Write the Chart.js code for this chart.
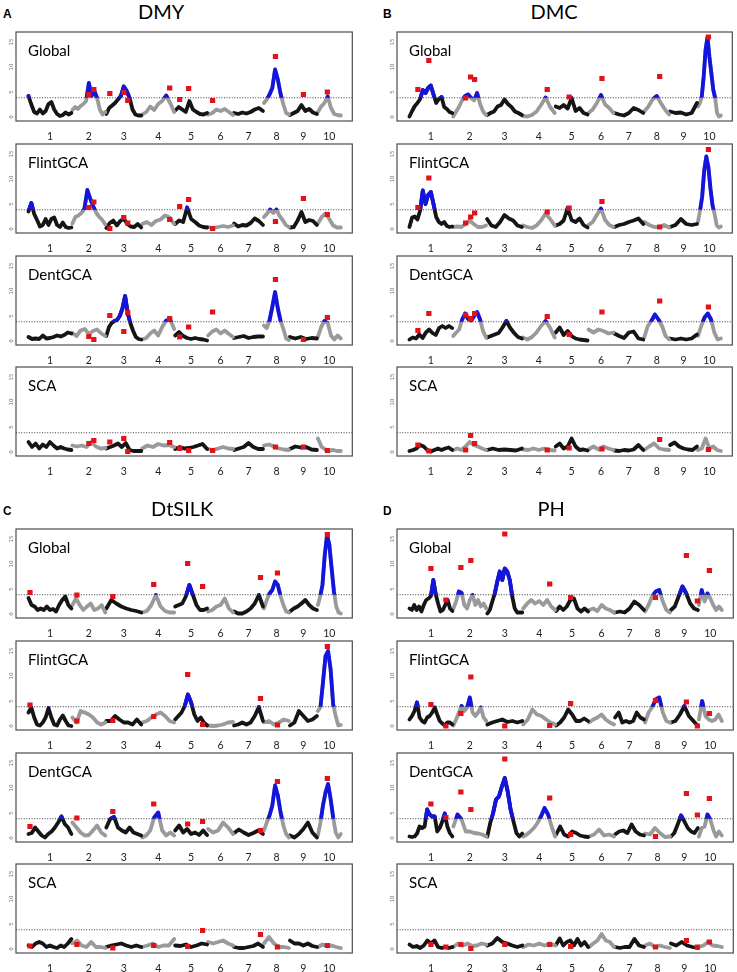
<!DOCTYPE html>
<html><head><meta charset="utf-8">
<script src="https://cdn.jsdelivr.net/npm/chart.js@4.4.1/dist/chart.umd.min.js"></script>
<style>
html,body{margin:0;padding:0;background:#fff;}
body{width:737px;height:972px;position:relative;overflow:hidden;font-family:Lato,sans-serif;}
.t{position:absolute;white-space:nowrap;color:#000;line-height:1;}
canvas{position:absolute;}
</style></head><body>
<script>
// ---------- shared axis data ----------
const chromLabels = ['1','2','3','4','5','6','7','8','9','10'];
const chromLen = [44, 34, 36, 33, 33, 26, 30, 26, 28, 24];
const yTicks = [0, 5, 10, 15];
const threshold = 3.85;
const subplotNames = ['Global', 'FlintGCA', 'DentGCA', 'SCA'];

// ---------- A: DMY ----------
const dmyGlobal = [
 [4.2,2.5,1.0,0.7,1.5,0.7,1.2,2.6,3.0,1.5,0.6,0.2,0.4,0.9,0.5,0.8],
 [1.4,2.0,1.6,2.2,2.6,3.2,6.8,4.2,5.2,3.8,1.5,0.5,1.0],
 [0.6,1.8,2.3,2.8,3.5,4.2,6.1,5.2,3.8,1.5,0.5,0.3,0.3],
 [0.5,1.0,2.1,1.4,2.6,3.2,4.3,2.8,1.0],
 [1.3,2.0,1.5,1.0,3.2,1.5,1.0,0.6,0.5,0.8],
 [0.5,0.8,1.5,1.2,1.6,1.0,0.4],
 [0.8,0.6,0.9,0.7,1.0,1.5,1.8,1.2],
 [2.8,3.5,4.5,5.8,9.5,7.5,4.6,2.5,0.8,0.5],
 [0.4,0.8,1.2,2.4,1.2,1.6,0.9,0.6],
 [1.0,2.1,2.8,4.1,1.8,0.6,0.4,0.3]
];
const dmyFlint = [
 [3.5,5.2,3.0,1.8,0.5,0.8,2.0,0.8,2.0,2.3,0.8,0.4,1.3,0.4,0.2,0.3],
 [1.1,2.4,2.7,3.2,4.0,7.8,6.0,4.5,3.2,2.4,1.8,0.9],
 [0.2,1.2,1.7,0.7,1.6,2.1,1.0,0.5,0.4,1.0,0.3],
 [1.0,1.4,0.8,1.6,1.9,2.7,2.3,1.0],
 [1.0,1.7,1.4,4.3,2.0,1.4,0.7,0.4,0.3],
 [0.4,0.2,0.4,0.6,0.4,0.7],
 [1.1,0.5,0.8,0.7,1.2,2.1,1.6,0.8],
 [2.4,3.1,3.9,3.2,3.9,2.6,1.8,0.8,0.4],
 [0.3,0.4,1.7,3.4,1.4,1.8,1.6,0.8],
 [1.1,2.4,3.1,2.0,0.7,0.3,0.3]
];
const dmyDent = [
 [0.8,0.4,0.5,0.4,1.1,0.5,0.6,0.8,1.1,0.9,1.2,1.7,1.5],
 [1.6,1.0,2.1,2.4,1.4,2.0,2.3,1.5,1.0],
 [1.0,2.8,3.6,4.0,4.2,5.0,6.5,9.0,5.5,3.5,2.0,0.8,0.4,0.3],
 [0.3,0.6,1.5,2.1,1.1,2.8,4.1,4.3,2.4],
 [1.1,1.8,1.0,0.6,0.4,0.6,0.4,0.3,0.1],
 [1.1,1.9,2.3,1.5,2.1,1.4,0.8],
 [0.6,0.8,1.0,0.6,0.8,0.9,0.9],
 [3.1,2.6,4.1,6.8,9.8,6.5,4.0,2.4,0.5,0.2],
 [0.8,0.5,0.8,0.4,0.6,0.5],
 [0.8,2.8,4.0,3.6,1.1,0.3,1.1,0.5]
];
const dmySca = [
 [2.0,1.0,1.7,0.7,1.5,1.0,2.0,1.3,0.7,1.0,0.7,0.5,0.4],
 [1.3,1.1,1.3,1.0,2.0,1.1,0.7,0.8],
 [0.7,1.0,1.3,1.7,1.0,1.8,0.4,0.2,0.2,0.2],
 [0.7,1.3,1.0,1.6,1.3,1.4,1.0],
 [0.6,1.0,0.7,0.8,1.0,1.3,1.6,0.6],
 [0.6,0.4,0.7,1.0,0.7,0.6],
 [0.4,0.7,1.0,1.8,1.0,0.6,0.6],
 [1.3,1.5,1.1,0.7,0.5,0.4],
 [0.6,1.1,0.9,1.0,0.5,0.4],
 [2.7,1.0,0.5,0.3,0.4,0.2,0.2]
];
const dmyQtlPos = [61, 66, 82, 96, 100, 142, 152, 161, 185, 248, 276, 300];
const dmyGlobalQtl = [4.5, 5.5, 4.7, 4.9, 3.3, 5.8, 3.5, 5.7, 3.3, 12.1, 4.5, 5.0];
const dmyFlintQtl = [4.3, 5.4, 0.1, 2.3, 1.2, 1.9, 4.5, 5.9, 0.1, 1.5, 6.1, 2.9];
const dmyDentQtl = [0.9, 0.3, 5.1, 1.9, 5.7, 4.5, 0.8, 2.8, 5.8, 12.3, 0.3, 4.7];
const dmyScaQtl = [1.7, 2.3, 2.0, 2.7, 0.1, 1.9, 0.7, 0.3, 0.3, 1.0, 1.0, 0.3];

// ---------- B: DMC ----------
const dmcGlobal = [
 [0.1,1.2,2.2,2.8,3.6,5.4,4.8,5.8,6.3,4.5,2.8,3.6,4.0,2.0,1.6,1.0,0.8],
 [0.1,1.1,2.1,3.4,4.2,4.5,3.8,3.3,4.8,2.6,1.1,0.4],
 [0.4,0.8,1.1,2.1,2.4,3.5,2.6,2.0,1.1,0.8,0.4],
 [0.2,0.1,0.4,1.1,2.4,3.9,2.0,0.8],
 [2.1,1.8,2.4,1.7,3.8,1.2,1.8,0.8,0.5],
 [0.8,1.5,2.8,4.4,2.5,1.8,0.8],
 [0.8,0.5,0.3,0.8,1.8,1.4,0.8],
 [1.1,2.1,3.5,4.2,2.8,1.5,0.5],
 [1.1,0.8,0.9,0.5,0.8,2.8],
 [2.1,2.8,4.1,8.1,13.5,16.0,12.0,8.8,5.5,3.8,0.8,0.1,0.3]
];
const dmcFlint = [
 [0.4,2.3,2.5,1.9,3.7,7.7,5.0,6.8,7.4,5.0,2.4,1.4,1.0,1.4,0.6,0.4,0.5],
 [0.4,0.5,0.4,1.0,1.7,1.0,0.4,0.4,0.7],
 [2.0,0.7,0.4,1.4,2.8,2.1,1.7,0.7,0.4],
 [0.7,0.4,0.2,0.7,1.7,3.1,2.0,0.7],
 [0.7,1.0,1.7,4.2,1.8,1.4,2.1,0.8,0.3],
 [0.8,1.4,2.8,4.1,1.8,0.8,0.4],
 [0.4,0.8,1.0,1.4,1.7,2.1,1.0],
 [1.4,0.8,0.4,0.4,0.8,0.3],
 [0.4,0.8,2.0,1.0,0.8,1.0],
 [1.4,3.7,6.4,11.7,14.5,12.4,8.1,4.7,3.0,0.7,0.3,0.5]
];
const dmcDent = [
 [0.3,0.7,0.5,1.3,0.6,1.7,2.3,1.6,1.2,2.6,3.0,2.6,3.0,2.6],
 [1.0,1.7,2.3,4.3,5.5,4.4,4.0,5.0,5.8,4.3,2.0,0.7],
 [0.7,1.0,1.3,1.6,2.7,4.0,2.6,1.6,0.8,0.5],
 [0.7,0.3,0.8,1.7,3.0,4.0,2.6,0.7],
 [1.7,2.7,1.2,2.0,1.0,0.5,0.3,0.2,0.1],
 [2.3,1.7,2.3,2.0,1.5,1.7],
 [1.5,1.0,0.6,1.7,1.9,0.5,0.3],
 [0.7,3.0,4.0,5.3,4.3,3.0,1.0,0.3],
 [0.5,0.3,0.5,0.3,0.5,1.3],
 [1.0,3.0,4.7,5.5,4.3,1.7,0.3,0.5]
];
const dmcSca = [
 [0.2,0.4,0.7,1.4,1.1,0.4,0.1,0.4,0.7,0.4,0.7,0.9,0.4],
 [0.4,0.7,0.4,1.1,2.0,1.4,1.1,0.7,0.4],
 [0.4,0.7,0.4,0.5,0.4,0.3,0.7],
 [0.5,0.4,0.7,0.4,0.7,0.4,0.3],
 [1.1,1.7,0.7,1.1,2.7,1.1,0.4,0.5,0.3],
 [0.5,1.1,0.5,1.1,0.7,0.4],
 [0.3,0.2,0.4,0.3,0.5,1.4,0.4],
 [0.4,1.1,1.7,0.7,0.5,0.4],
 [1.4,1.9,1.1,0.7,0.5,0.4,1.1],
 [0.4,0.7,2.7,0.7,1.1,0.4,0.2]
];
const dmcQtlPos = [9, 20, 57, 62, 66, 139, 161, 194, 252, 301];
const dmcGlobalQtl = [5.5, 11.3, 3.8, 8.0, 7.5, 5.5, 4.0, 7.7, 8.1, 16.0];
const dmcFlintQtl = [4.3, 10.2, 1.2, 2.4, 3.2, 3.4, 4.2, 5.5, 0.4, 15.9];
const dmcDentQtl = [2.1, 5.5, 5.2, 4.5, 5.5, 4.9, 1.3, 5.8, 8.0, 6.8];
const dmcScaQtl = [1.4, 0.2, 0.4, 3.3, 1.7, 0.4, 0.8, 0.6, 2.5, 0.5];

// ---------- C: DtSILK ----------
const silkGlobal = [
 [3.2,1.8,1.5,0.8,1.1,0.8,1.5,0.8,1.0,0.5,1.8,2.8,3.5,1.8,1.1],
 [1.8,3.1,1.8,0.8,1.5,2.1,0.8,1.1,1.8,0.3],
 [1.1,2.8,2.1,1.5,1.1,0.8,0.6,0.3],
 [0.3,0.6,1.8,3.8,1.5,0.6,0.3,0.3],
 [1.5,1.8,2.1,3.5,5.8,3.8,1.8,0.8,0.8,1.1],
 [0.5,0.8,1.5,1.8,3.1,1.1,0.3],
 [0.5,0.1,0.1,0.5,1.1,2.1,3.8,1.5],
 [1.1,2.8,4.1,4.8,6.5,5.8,3.5,1.8,0.5,0.3],
 [0.5,1.1,1.5,2.1,2.8,1.8,1.1,0.8],
 [1.8,3.5,5.8,11.8,15.8,13.8,9.1,4.5,1.5,0.3,0.1]
];
const silkFlint = [
 [2.7,3.7,1.7,0.3,0.1,0.7,1.7,3.6,1.7,0.3,0.1,1.3,2.1,1.0,0.1,0.0],
 [1.7,0.7,3.0,2.7,2.3,1.7,0.7,0.3,0.7],
 [1.0,1.0,2.0,1.3,0.7,0.7,0.3,1.3,0.3],
 [0.7,1.0,1.7,2.3,2.7,2.0,1.0,0.7],
 [1.3,2.0,2.7,4.0,6.3,4.7,2.3,1.0,1.7,0.7,0.1],
 [0.1,0.0,0.1,0.3,0.7,0.8],
 [0.1,0.3,0.7,0.3,0.7,2.0,3.8,1.0],
 [0.7,1.0,0.3,0.7,1.3,1.0],
 [0.1,0.7,3.0,2.0,1.0,1.3,2.0],
 [3.0,3.7,8.7,14.0,15.0,11.3,4.3,2.0,0.1,0.2]
];
const silkDent = [
 [0.8,1.0,2.1,1.3,0.5,0.1,0.8,1.3,2.1,3.1,4.3,2.8,2.1,0.8],
 [3.1,2.1,1.1,0.5,0.6,1.5,2.5,1.1,0.5],
 [2.1,3.8,4.2,2.1,1.5,1.1,2.1,1.1,0.8,0.5],
 [0.1,0.5,1.5,4.1,5.1,1.5,0.5,1.1,0.5],
 [1.5,2.5,1.1,1.8,0.8,1.1,0.6,1.5,0.6],
 [1.8,1.1,1.5,3.1,2.1,0.8],
 [1.0,1.7,1.1,0.6,1.0,1.5,0.8],
 [1.5,3.1,4.5,6.5,10.5,8.5,5.1,2.5,0.8,0.1],
 [0.5,0.1,0.8,1.8,3.1,1.1,0.1],
 [0.5,3.1,6.5,9.1,10.8,7.8,4.1,1.1,0.1,0.8]
];
const silkSca = [
 [0.7,0.4,1.1,1.4,1.1,0.4,0.7,0.4,0.2,0.7,0.4,1.1,2.0],
 [1.1,1.7,0.7,0.4,1.4,0.4,0.4,0.2],
 [0.4,0.7,0.9,1.1,0.7,0.4,0.7,0.4],
 [0.4,0.7,1.1,0.4,0.7,0.7,2.0],
 [0.7,0.6,0.9,0.4,0.7,1.1,0.9],
 [1.4,1.1,1.4,1.7,1.1,0.7],
 [0.4,0.2,0.2,0.4,0.6,1.1,0.4],
 [1.1,2.4,1.1,0.4,0.4,0.2],
 [1.7,1.1,1.1,0.7,1.1,0.6,0.4],
 [0.4,0.9,0.6,0.7,0.4,0.2]
];
const silkQtlPos = [2, 49, 85, 126, 160, 175, 233, 250, 300];
const silkGlobalQtl = [4.3, 3.8, 3.5, 5.9, 10.1, 5.5, 7.3, 8.2, 15.9];
const silkFlintQtl = [4.2, 1.0, 1.1, 1.9, 10.3, 0.3, 5.5, 0.2, 15.9];
const silkDentQtl = [2.3, 4.0, 5.3, 6.8, 2.8, 3.3, 1.5, 11.3, 11.9];
const silkScaQtl = [0.6, 0.9, 0.2, 0.7, 0.5, 3.7, 2.9, 0.4, 0.7];

// ---------- D: PH ----------
const phGlobal = [
 [1.1,0.8,1.8,0.8,1.5,0.5,1.8,2.8,3.1,3.6,6.8,4.0,2.1,0.5,0.8,1.8,2.8,1.1,0.6],
 [1.1,2.5,4.5,4.2,1.8,1.1,2.8,3.8,1.8,2.8,1.5,2.1,1.1],
 [0.1,0.8,2.5,4.1,6.5,8.5,6.8,9.1,8.5,6.8,3.5,1.1,0.3,0.3,0.3],
 [1.1,2.1,2.8,2.1,2.6,1.8,2.8,1.5,0.8],
 [0.6,1.5,0.8,1.5,2.8,3.1,1.1,0.5,1.1,0.5],
 [0.8,1.1,0.6,1.8,1.1,0.8,0.3],
 [0.3,0.5,0.3,1.1,2.5,1.8,0.8],
 [0.5,1.8,3.5,4.5,4.8,2.5,0.8,0.3],
 [0.8,1.5,3.5,5.5,4.1,2.1,1.1,0.8],
 [1.8,4.8,2.5,4.1,3.1,1.8,0.8,1.5,0.8]
];
const phFlint = [
 [1.3,2.0,3.0,4.7,1.7,1.0,0.7,1.7,2.0,2.7,3.7,2.3,1.0,0.5,0.1,0.7,0.7,0.3],
 [0.1,1.3,2.7,4.0,3.0,3.7,5.7,2.7,2.0,2.7,3.7,1.7,1.0],
 [0.3,0.7,1.0,1.3,0.8,1.0,0.7,1.0],
 [0.3,1.3,3.3,2.3,2.0,1.3,0.7,0.3],
 [0.1,0.7,1.7,3.3,2.3,1.0,1.0,1.5,1.0],
 [0.7,1.3,1.7,2.3,1.3,0.7,0.3],
 [1.7,2.7,0.7,1.0,0.7,1.0,2.7,1.7,1.3],
 [0.7,2.7,3.7,5.3,5.7,2.7,1.0,0.7],
 [0.7,1.0,2.3,4.0,2.0,1.0,0.0],
 [1.3,5.0,2.0,1.3,1.0,1.3,2.3,1.0]
];
const phDent = [
 [0.3,0.2,0.3,0.9,2.3,2.0,2.3,5.7,4.7,4.3,4.3,1.3,2.0,3.3,4.9,2.3,1.0,0.3],
 [2.3,4.7,3.7,1.3,1.3,1.0,0.9,0.7,0.3],
 [0.3,3.0,5.0,7.7,8.3,10.3,12.0,9.3,5.7,3.3,1.0,0.3,0.9],
 [0.3,0.7,1.3,2.0,3.0,4.3,6.0,4.7,2.3,0.3],
 [0.7,2.3,0.7,0.3,1.3,1.0,0.5,0.3,0.2],
 [0.3,0.7,1.7,0.5,0.7,0.3],
 [0.7,1.3,1.5,1.0,2.7,1.3,0.7,0.5],
 [0.9,0.7,2.0,1.0,0.2,0.3],
 [0.3,1.0,2.7,4.5,3.3,2.0,1.3,1.0,2.0],
 [0.3,2.0,2.3,4.7,3.7,1.7,0.3,1.3,0.5]
];
const phSca = [
 [0.9,0.4,0.6,0.2,0.7,1.7,1.1,1.7,0.4,0.2,0.4,0.2,0.4],
 [0.4,1.1,0.7,1.1,0.6,0.7,1.1,0.9],
 [0.7,1.1,2.2,1.4,1.1,0.7,0.4,0.7],
 [0.4,0.9,0.7,1.1,0.7,1.1,0.7],
 [0.9,2.1,0.7,1.4,1.7,0.7,2.0,0.7,1.4,0.4],
 [0.4,1.1,1.7,3.0,1.7,1.4,0.4],
 [0.4,0.2,0.4,0.4,2.0,0.7,0.4],
 [0.7,1.1,0.4,0.7,0.4,0.2],
 [1.1,0.7,1.4,0.7,0.4,0.2],
 [0.4,0.7,1.4,0.7,0.6,0.4]
];
const phQtlPos = [22, 37, 52, 62, 96, 141, 162, 247, 278, 289, 301];
const phGlobalQtl = [9.1, 2.8, 9.3, 10.7, 16.0, 6.0, 3.3, 3.3, 11.7, 2.6, 8.7];
const phFlintQtl = [4.3, 0.0, 2.5, 9.8, 0.0, 0.1, 4.5, 5.1, 4.8, 0.0, 2.5];
const phDentQtl = [6.8, 4.1, 9.2, 5.7, 15.8, 8.0, 0.7, 0.3, 8.9, 4.6, 7.9];
const phScaQtl = [0.9, 0.4, 0.9, 0.1, 0.9, 0.9, 0.5, 0.4, 1.7, 0.4, 1.4];

// ---------- assembly ----------
const panels = [
 {letter:'A', title:'DMY', curves:[dmyGlobal,dmyFlint,dmyDent,dmySca], pos:dmyQtlPos, qtl:[dmyGlobalQtl,dmyFlintQtl,dmyDentQtl,dmyScaQtl]},
 {letter:'B', title:'DMC', curves:[dmcGlobal,dmcFlint,dmcDent,dmcSca], pos:dmcQtlPos, qtl:[dmcGlobalQtl,dmcFlintQtl,dmcDentQtl,dmcScaQtl]},
 {letter:'C', title:'DtSILK', curves:[silkGlobal,silkFlint,silkDent,silkSca], pos:silkQtlPos, qtl:[silkGlobalQtl,silkFlintQtl,silkDentQtl,silkScaQtl]},
 {letter:'D', title:'PH', curves:[phGlobal,phFlint,phDent,phSca], pos:phQtlPos, qtl:[phGlobalQtl,phFlintQtl,phDentQtl,phScaQtl]}
];
const geom = [
 {cx:0,   frameW:337, top:0,   titleX:161, letterX:3},
 {cx:381, frameW:336, top:0,   titleX:554, letterX:383},
 {cx:0,   frameW:337, top:497, titleX:182, letterX:3},
 {cx:381, frameW:337, top:497, titleX:551, letterX:383}
];
const rowTops = [32, 144, 256, 367];
const FRAME_H = 89, YAXIS_W = 16, XAXIS_H = 24, PAD_T = 6, PAD_R = 3;
const LINE_W = 3.8;

const chromStart = [];
chromLen.reduce((acc, l) => { chromStart.push(acc); return acc + l; }, 0);
const chromCenters = chromLen.map((l, i) => chromStart[i] + l / 2);

const COL_BLACK = '#151515', COL_GRAY = '#9a9a9a', COL_BLUE = '#1414e0', COL_RED = '#e3121a';

const blueClip = {
  id: 'blueClip',
  beforeDatasetDraw(chart, args) {
    const ds = chart.data.datasets[args.index];
    if (!ds.aboveOnly) return;
    const a = chart.chartArea, ctx = chart.ctx;
    const ty = chart.scales.y.getPixelForValue(threshold);
    ctx.save();
    ctx.beginPath();
    ctx.rect(a.left, a.top - 4, a.right - a.left, ty - a.top + 4);
    ctx.clip();
  },
  afterDatasetDraw(chart, args) {
    if (chart.data.datasets[args.index].aboveOnly) chart.ctx.restore();
  }
};
const framePlugin = {
  id: 'frame',
  afterDraw(chart) {
    const a = chart.chartArea, ctx = chart.ctx;
    ctx.save();
    ctx.strokeStyle = '#4d4d4d';
    ctx.lineWidth = 1.2;
    ctx.strokeRect(a.left, a.top, a.right - a.left, a.bottom - a.top);
    ctx.restore();
  }
};

function addText(txt, x, y, css) {
  const d = document.createElement('div');
  d.className = 't';
  d.textContent = txt;
  d.style.left = x + 'px';
  d.style.top = y + 'px';
  Object.assign(d.style, css);
  document.body.appendChild(d);
  return d;
}

panels.forEach((p, pi) => {
  const g = geom[pi];
  addText(p.letter, g.letterX, g.top + 8, {fontFamily:'"Liberation Sans", Arial, sans-serif', fontWeight:'bold', fontSize:'12px'});
  const tdiv = addText(p.title, 0, g.top + 1, {fontFamily:'Lato, sans-serif', fontSize:'20px'});
  tdiv.style.left = (g.titleX - tdiv.offsetWidth / 2) + 'px';

  p.curves.forEach((curve, ri) => {
    const frameTop = g.top + rowTops[ri];
    const cv = document.createElement('canvas');
    const W = YAXIS_W + g.frameW + PAD_R, H = PAD_T + FRAME_H + XAXIS_H;
    cv.width = W; cv.height = H;
    cv.style.left = g.cx + 'px';
    cv.style.top = (frameTop - PAD_T) + 'px';
    cv.style.width = W + 'px'; cv.style.height = H + 'px';
    document.body.appendChild(cv);

    const datasets = [];
    const bluePts = [];
    curve.forEach((vals, c) => {
      const n = vals.length, s = chromStart[c], L = chromLen[c];
      const pts = vals.map((v, i) => ({x: s + 0.5 + i * (L - 1) / (n - 1), y: v}));
      datasets.push({data: pts, borderColor: c % 2 ? COL_GRAY : COL_BLACK, borderWidth: LINE_W,
        pointRadius: 0, pointHoverRadius: 0, tension: 0, fill: false,
        borderJoinStyle: 'round', borderCapStyle: 'round', order: 4});
      pts.forEach(pt => bluePts.push(pt));
      bluePts.push({x: s + L, y: null});
    });
    datasets.push({data: bluePts, borderColor: COL_BLUE, borderWidth: LINE_W, pointRadius: 0, pointHoverRadius: 0,
      tension: 0, fill: false, spanGaps: false, borderJoinStyle: 'round', borderCapStyle: 'round', aboveOnly: true, order: 3});
    datasets.push({data: [{x: -12, y: threshold}, {x: 325, y: threshold}], borderColor: '#3a3a3a', borderWidth: 1,
      borderDash: [1, 1.6], pointRadius: 0, pointHoverRadius: 0, fill: false, order: 2});
    datasets.push({data: p.pos.map((x, i) => ({x: x, y: p.qtl[ri][i]})), showLine: false, pointStyle: 'rect',
      pointRadius: 3.7, pointHoverRadius: 3.7, pointBackgroundColor: COL_RED, pointBorderWidth: 0,
      borderColor: COL_RED, backgroundColor: COL_RED, order: 1});

    new Chart(cv, {
      type: 'line',
      data: {datasets},
      options: {
        responsive: false, animation: false, devicePixelRatio: window.devicePixelRatio || 1,
        layout: {padding: {top: PAD_T, right: PAD_R, left: 0, bottom: 0}},
        plugins: {legend: {display: false}, tooltip: {enabled: false}, title: {display: false}},
        events: [],
        scales: {
          x: {
            type: 'linear', min: -12, max: 325,
            grid: {display: false, drawTicks: false}, border: {display: false},
            afterBuildTicks: s => { s.ticks = chromCenters.map(v => ({value: v})); },
            ticks: {autoSkip: false, maxRotation: 0, minRotation: 0, padding: 9, color: '#222',
              font: {family: 'Lato', size: 10.5}, callback: (v, i) => chromLabels[i]},
            afterFit: s => { s.height = XAXIS_H; }
          },
          y: {
            type: 'linear', min: -0.8, max: 17,
            grid: {display: false, drawTicks: false}, border: {display: false},
            afterBuildTicks: s => { s.ticks = yTicks.map(v => ({value: v})); },
            ticks: {minRotation: 90, maxRotation: 90, crossAlign: 'center', padding: 1, color: '#777',
              font: {family: 'DejaVu Sans', size: 5.5}},
            afterFit: s => { s.width = YAXIS_W; }
          }
        }
      },
      plugins: [blueClip, framePlugin]
    });

    addText(subplotNames[ri], g.cx + YAXIS_W + 12, frameTop + 11, {fontFamily: 'Lato, sans-serif', fontSize: '15px'});
  });
});
</script>
</body></html>
